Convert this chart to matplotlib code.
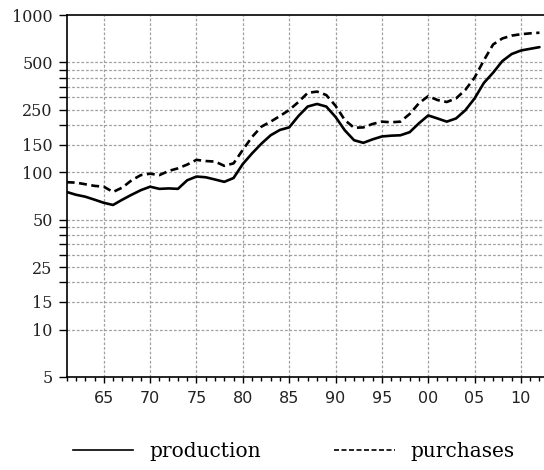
import numpy as np
import matplotlib
matplotlib.use("Agg")
import matplotlib.pyplot as plt
from matplotlib.lines import Line2D

years = np.arange(1961, 2013)

production = [75, 72, 70, 67, 64, 62, 67, 72, 77, 81,
              78.5, 79, 78.5, 89, 94, 93, 90, 87, 92, 113,
              132, 152, 172, 186, 193, 228, 262, 272, 262, 225,
              185, 160, 154, 162, 169, 171, 172, 180, 205, 230,
              220, 210, 220, 248, 295, 370, 430, 510, 565, 595,
              610, 625]

purchases = [86.5, 86, 84, 82, 81, 75, 80, 89, 96, 98,
             96, 102, 106, 112, 120, 118, 117, 110, 114, 139,
             168, 195, 210, 228, 249, 280, 320, 326, 310, 265,
             215, 192, 193, 203, 210, 208, 210, 235, 275, 305,
             288, 280, 295, 334, 400, 515, 650, 710, 740, 755,
             765, 772]

x_ticks = [1965, 1970, 1975, 1980, 1985, 1990, 1995, 2000, 2005, 2010]
x_labels = ['65', '70', '75', '80', '85', '90', '95', '00', '05', '10']

y_ticks = [5, 10, 15, 20, 25, 30, 35, 40, 45, 50,
           100, 150, 200, 250, 300, 350, 400, 450, 500, 1000]
y_labeled = [5, 10, 15, 25, 50, 100, 150, 250, 500, 1000]

fig = plt.figure(figsize=(5.44, 4.70), dpi=100)
ax = fig.add_axes([0.1226, 0.198, 0.8861, 0.770])

ax.plot(years, production, color='black', lw=1.9,
        solid_joinstyle='round', solid_capstyle='round')
ax.plot(years, purchases, color='black', lw=1.9, dashes=(3.0, 1.7))

ax.set_yscale('log')
ax.set_ylim(5, 1000)
ax.set_xlim(1961, 2013)

# y ticks: all marked, only some labelled
ax.set_yticks(y_ticks)
ax.set_yticklabels([str(v) if v in y_labeled else '' for v in y_ticks],
                   family='DejaVu Serif', fontsize=11.5, color='#222222')
ax.yaxis.set_minor_locator(matplotlib.ticker.NullLocator())
ax.tick_params(axis='y', which='major', direction='out', length=6,
               width=1.0, pad=4)

ax.set_xticks(x_ticks)
ax.set_xticklabels(x_labels, family='DejaVu Sans', fontsize=11.5, color='#222222')
ax.set_xticks(years, minor=True)
ax.tick_params(axis='x', which='major', direction='out', length=4, width=1.0, pad=6)
ax.tick_params(axis='x', which='minor', direction='out', length=3, width=1.0)

# grid lines
for v in y_ticks:
    if v not in (5, 1000):
        ax.axhline(v, color='#a0a0a0', lw=0.9, dashes=(2.2, 1.5), zorder=0)
for xv in x_ticks:
    ax.axvline(xv, color='#a0a0a0', lw=0.9, dashes=(2.2, 1.5), zorder=0)

for s in ['left', 'bottom', 'top']:
    ax.spines[s].set_linewidth(1.2)
ax.spines['right'].set_visible(False)

handles = [Line2D([], [], color='black', lw=1.2),
           Line2D([], [], color='black', lw=1.2, dashes=(3, 1.5))]
fig.legend(handles, ['production', 'purchases'], loc='center',
           bbox_to_anchor=(0.54, 0.04), ncol=2, frameon=False,
           prop={'family': 'DejaVu Serif', 'size': 14.5},
           handlelength=3.0, handletextpad=0.8, columnspacing=3.65)

fig.savefig('out.png', dpi=100)
